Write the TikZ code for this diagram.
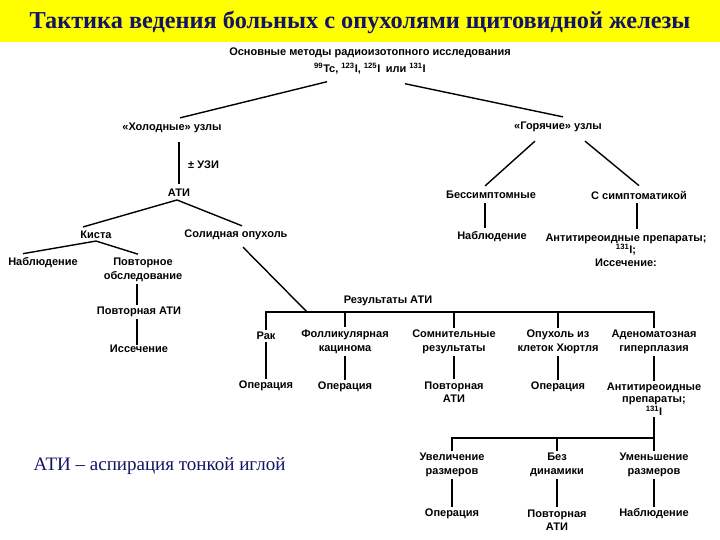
\documentclass[tikz,border=0pt]{standalone}
\usepackage{fontspec}
\setmainfont{Liberation Sans}
\newfontfamily\headfont{Liberation Serif}
\usepackage{xcolor}
\usetikzlibrary{calc}
\definecolor{tyellow}{RGB}{255, 255, 0}
\definecolor{tnavy}{RGB}{20, 20, 100}

\begin{document}
\begin{tikzpicture}[x=1pt, y=-1pt,
  box/.style={font=\bfseries\fontsize{11}{13.5}\selectfont, inner sep=2pt, align=center},
  link/.style={line width=1.4pt}]
\useasboundingbox (0,0) rectangle (720,540);
\fill[white] (0,0) rectangle (720,540);

% Title band
\fill[tyellow] (0,0) rectangle (720,42);
\node[font=\headfont\bfseries\fontsize{24.3}{27}\selectfont, text=tnavy] (title) at (360,22) {Тактика ведения больных с опухолями щитовидной железы};

% Radioisotope study
\node[box] (methods) at (370,53) {Основные методы радиоизотопного исследования};
\node[box] (iso) at (370,69) {\textsuperscript{99}Tc, \textsuperscript{123}I, \textsuperscript{125}I\enspace или \textsuperscript{131}I};
\node[box] (cold) at (172,128) {«Холодные» узлы};
\node[box] (hot) at (558,127) {«Горячие» узлы};
\draw[link] ([xshift=-43pt,yshift=-5pt]iso.south) -- ([xshift=8pt,yshift=3pt]cold.north);
\draw[link] ([xshift=35pt,yshift=-7pt]iso.south) -- ([xshift=5pt,yshift=3pt]hot.north);

% Cold nodes
\node[box] (ati) at (179,193) {АТИ};
\node[box, anchor=west] (usi) at (186,165) {± УЗИ};
\draw[link] ([yshift=-7pt]cold.south -| ati) -- ([yshift=3pt]ati.north);
\node[box] (cyst) at (96,235) {Киста};
\node[box] (solid) at (236,235) {Солидная опухоль};
\draw[link] ([xshift=-2pt,yshift=-1pt]ati.south) -- ([xshift=-13pt,yshift=2pt]cyst.north);
\draw[link] ([xshift=-2pt,yshift=-1pt]ati.south) -- ([xshift=6pt,yshift=2pt]solid.north);

% Cyst
\node[box] (watch1) at (43,263) {Наблюдение};
\node[box] (reexam) at (143,270) {Повторное\\обследование};
\node[box] (reati1) at (139,312) {Повторная АТИ};
\node[box] (excis1) at (139,349) {Иссечение};
\draw[link] (cyst.south) -- ([xshift=-20pt,yshift=2pt]watch1.north);
\draw[link] (cyst.south) -- ([xshift=-5pt,yshift=2pt]reexam.north);
\draw[link] ([xshift=-2pt]reexam.south -| reati1.north) -- ([xshift=-2pt]reati1.north);
\draw[link] ([xshift=-2pt]reati1.south) -- ([xshift=-2pt,yshift=-2pt]excis1.north);

% Solid tumour: results of ATI
\node[box] (res) at (388,301) {Результаты АТИ};
\coordinate (join) at (307,312);
\node[box] (cancer) at (266,336) {Рак};
\node[box] (follic) at (345,342) {Фолликулярная\\кацинома};
\node[box] (doubt) at (454,342) {Сомнительные\\результаты};
\node[box] (hurthle) at (558,342) {Опухоль из\\клеток Хюртля};
\node[box] (adenoma) at (654,342) {Аденоматозная\\гиперплазия};
\draw[link] ([xshift=7pt,yshift=-5pt]solid.south) -- (join);
\draw[link] (cancer.north) -- (cancer.north |- join) -- (adenoma.north |- join) -- (adenoma.north);
\draw[link] (follic.north |- join) -- ([yshift=1pt]follic.north);
\draw[link] (doubt.north |- join) -- (doubt.north);
\draw[link] (hurthle.north |- join) -- (hurthle.north);

\node[box] (oper1) at (266,386) {Операция};
\node[box] (oper2) at (345,387) {Операция};
\node[box] (reati2) at (454,392) {Повторная\\АТИ};
\node[box] (oper3) at (558,387) {Операция};
\node[box] (anti2) at (654,399) {Антитиреоидные\\[-1pt]препараты;\\[-1pt]\textsuperscript{131}I};
\draw[link] (cancer.south) -- (oper1.north);
\draw[link] (follic.south) -- (oper2.north);
\draw[link] (doubt.south) -- (reati2.north);
\draw[link] (hurthle.south) -- (oper3.north);
\draw[link] (adenoma.south) -- (anti2.north);

% After antithyroid drugs
\coordinate (fork) at (654,438);
\node[box] (grow) at (452,465) {Увеличение\\размеров};
\node[box] (same) at (557,465) {Без\\динамики};
\node[box] (shrink) at (654,465) {Уменьшение\\размеров};
\draw[link] (anti2.south) -- (fork);
\draw[link] (grow.north) -- (grow.north |- fork) -- (fork) -- (shrink.north);
\draw[link] (same.north |- fork) -- (same.north);

\node[box] (oper4) at (452,514) {Операция};
\node[box] (reati3) at (557,520) {Повторная\\АТИ};
\node[box] (watch3) at (654,514) {Наблюдение};
\draw[link] (grow.south) -- (oper4.north);
\draw[link] (same.south) -- (reati3.north);
\draw[link] (shrink.south) -- (watch3.north);

% Hot nodes
\node[box] (asympt) at (491,195) {Бессимптомные};
\node[box] (sympt) at (639,195) {С симптоматикой};
\draw[link] ([xshift=-23pt,yshift=-7pt]hot.south) -- ([xshift=-6pt,yshift=3pt]asympt.north);
\draw[link] ([xshift=27pt,yshift=-7pt]hot.south) -- ([yshift=3pt]sympt.north);
\node[box] (watch2) at (492,237) {Наблюдение};
\node[box] (anti1) at (626,250) {Антитиреоидные препараты;\\[-1pt]\textsuperscript{131}I;\\[-1pt]Иссечение:};
\draw[link] ([yshift=-2pt]asympt.south -| 485,0) -- ([yshift=2pt]watch2.north -| 485,0);
\draw[link] ([yshift=-2pt]sympt.south -| 637,0) -- ([yshift=2pt]anti1.north -| 637,0);

% Footnote
\node[font=\headfont\fontsize{19}{22}\selectfont, text=tnavy, anchor=west] (note) at (30,466) {АТИ – аспирация тонкой иглой};
\end{tikzpicture}
\end{document}
